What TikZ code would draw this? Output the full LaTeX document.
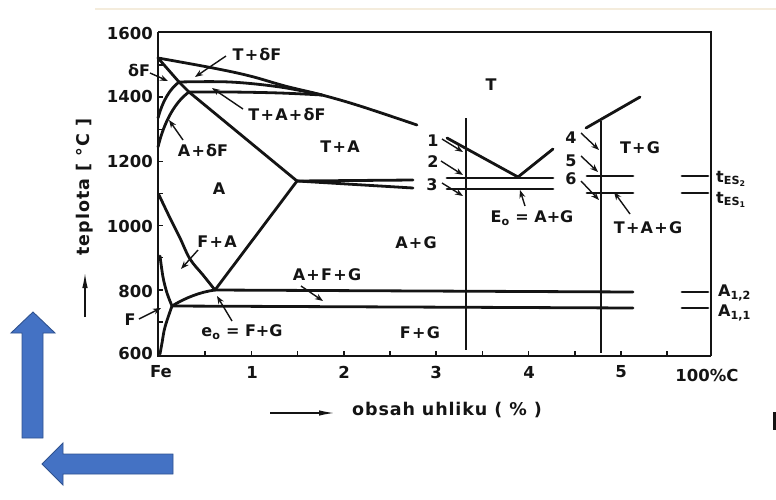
\documentclass[tikz,border=0pt]{standalone}
\usepackage{fontspec}
\setmainfont{DejaVu Sans}
\usetikzlibrary{arrows.meta}
\definecolor{ink}{HTML}{141414}
\definecolor{bluefill}{HTML}{4472C4}
\definecolor{blueedge}{HTML}{2F528F}
\definecolor{topline}{HTML}{F4ECDC}
\newcommand\pls{\kern0.08em+\kern0.08em}
\begin{document}
\begin{tikzpicture}[x=1pt,y=-1pt,
  lbl/.style={font=\fontsize{16}{16}\selectfont\bfseries, text=ink, inner sep=0pt},
  num/.style={font=\fontsize{16.5}{16.5}\selectfont\bfseries, text=ink, inner sep=0pt},
  ph/.style={draw=ink, line width=2.8pt, line cap=round, line join=round},
  thinv/.style={draw=ink, line width=1.5pt},
  frameline/.style={draw=ink, line width=1.8pt},
  axisline/.style={draw=ink, line width=2.5pt},
  tickline/.style={draw=ink, line width=1.5pt},
  leader/.style={draw=ink, line width=1.4pt, -{Stealth[length=8pt,width=6pt]}},
  axarrow/.style={draw=ink, line width=1.2pt, -{Latex[length=15pt,width=5.5pt]}},
  bigarrow/.style={fill=bluefill, draw=blueedge, line width=0.9pt, line join=miter}
]
\useasboundingbox (0,0) rectangle (776,499);
\draw[topline, line width=1.5pt] (95,9) -- (776,9);

% frame
\coordinate (TL) at (158,32); \coordinate (TR) at (711,32);
\coordinate (BR) at (711,356); \coordinate (BL) at (158,356);
\draw[frameline] (TL) -- (TR) -- (BR);
\draw[axisline] (TL) -- (BL) -- (BR);
\foreach \k in {1,...,9} \draw[tickline] (158,{354-32.1*\k}) -- ++(5,0);
\foreach \c in {0.5,1,...,5.5} \draw[tickline] ({159+92.4*\c},356) -- ++(0,-5);

% y tick labels
\node[num, anchor=east] (y1600) at (153,33) {1600};
\node[num, anchor=east] (y1400) at (153,96) {1400};
\node[num, anchor=east] (y1200) at (153,161) {1200};
\node[num, anchor=east] (y1000) at (153,226) {1000};
\node[num, anchor=east] (y800) at (153,291) {800};
\node[num, anchor=east] (y600) at (153,353) {600};
% x tick labels
\node[num] (xFe) at (161,372) {Fe};
\node[num] (x1) at (252,372) {1};
\node[num] (x2) at (344,372) {2};
\node[num] (x3) at (436,372) {3};
\node[num] (x4) at (529,372) {4};
\node[num] (x5) at (621,372) {5};
\node[num] (x100) at (707,375) {\textbf{100\%C}};

% axis titles
\node[text=ink, inner sep=0pt, rotate=90, font={\fontsize{17.5}{17.5}\selectfont\bfseries\addfontfeatures{LetterSpace=6}}] (ylab) at (85,187) {teplota [ °C ]};
\coordinate (ya0) at (85,317); \coordinate (ya1) at (85,273);
\draw[axarrow] (ya0) -- (ya1);
\node[text=ink, inner sep=0pt, font={\fontsize{17.5}{17.5}\selectfont\bfseries\addfontfeatures{LetterSpace=5}}] (xlab) at (447,410) {obsah uhliku ( \% )};
\coordinate (xa0) at (270,413); \coordinate (xa1) at (334,413);
\draw[axarrow] (xa0) -- (xa1);

% phase boundaries
\coordinate (dF) at (158,58);
\coordinate (P1) at (179,82);
\coordinate (P2) at (189,92);
\coordinate (Cv) at (322,95);
\coordinate (Eg) at (297,181);
\coordinate (Sd) at (215,290);
\coordinate (Fp) at (172,306);
\draw[ph] plot[smooth, tension=0.6] coordinates {(158,58) (213,68) (250,76) (285,86) (322,95) (360,106) (417,125)};
\draw[ph] plot[smooth, tension=0.6] coordinates {(179,82) (230,82) (280,87) (322,95)};
\draw[ph] plot[smooth, tension=0.6] coordinates {(189,92) (230,92) (280,93) (322,95)};
\draw[ph] (dF) -- (P1) -- (P2) -- (Eg);
\draw[ph] (158,118) .. controls (163,100) and (170,89) .. (P1);
\draw[ph] (158,147) .. controls (164,122) and (175,102) .. (P2);
% eutectic band
\draw[ph] (Eg) -- (413,180);
\draw[ph] (Eg) -- (413,188);
\draw[ph] (447,178) -- (553,178);
\draw[ph] (447,189) -- (553,189);
\draw[ph] (587,176) -- (633,176);
\draw[ph] (587,193) -- (633,193);
\draw[ph] (682,176) -- (708,176);
\draw[ph] (682,193) -- (708,193);
% graphite liquidus
\coordinate (Ep) at (518,177);
\draw[ph] (447,138) -- (Ep) -- (553,149);
\draw[ph] (586,128) -- (640,97);
% solvus, A3
\draw[ph] (Eg) -- (Sd);
\draw[ph] plot[smooth, tension=0.6] coordinates {(159,195) (170,218) (180,238) (190,259) (203,275) (215,290)};
\draw[ph] plot[smooth, tension=0.6] coordinates {(160,256) (163,277) (167,293) (172,306)};
\draw[ph] plot[smooth, tension=0.6] coordinates {(172,306) (165,327) (162,343) (160,354)};
\draw[ph] (Fp) .. controls (185,298) and (200,292) .. (Sd);
% eutectoid band
\draw[ph] (Sd) -- (633,292);
\draw[ph] (Fp) -- (633,308);
\draw[ph] (682,292) -- (708,292);
\draw[ph] (682,308) -- (708,308);
% composition verticals
\draw[thinv] (466,118) -- (466,350);
\draw[thinv] (601,121) -- (601,353);

% labels
\node[lbl] (LdF) at (139,70) {δF};
\node[lbl] (LTdF) at (257,54) {T\pls δF};
\node[lbl] (LTAdF) at (287,114) {T\pls A\pls δF};
\node[lbl] (LAdF) at (203,150) {A\pls δF};
\node[lbl] (LTA) at (340,147) {T\pls A};
\node[lbl] (LA) at (219,189) {A};
\node[lbl] (LT) at (491,85) {T};
\node[lbl] (L1) at (433,141) {1};
\node[lbl] (L2) at (433,162) {2};
\node[lbl] (L3) at (432,185) {3};
\node[lbl] (L4) at (571,138) {4};
\node[lbl] (L5) at (571,161) {5};
\node[lbl] (L6) at (571,179) {6};
\node[lbl] (LTG) at (640,148) {T\pls G};
\node[lbl] (LTAG) at (648,228) {T\pls A\pls G};
\node[lbl] (LE) at (532,218) {E\textsubscript{o} = A+G};
\node[lbl, anchor=west] (LtES2) at (716,179) {t\textsubscript{ES\textsubscript{2}}};
\node[lbl, anchor=west] (LtES1) at (716,200) {t\textsubscript{ES\textsubscript{1}}};
\node[lbl] (LAG) at (416,243) {A\pls G};
\node[lbl] (LFA) at (217,242) {F\pls A};
\node[lbl] (LAFG) at (327,275) {A\pls F\pls G};
\node[lbl] (Le) at (242,332) {e\textsubscript{o} = F+G};
\node[lbl] (LFG) at (420,333) {F\pls G};
\node[lbl] (LF) at (130,320) {F};
\node[lbl, anchor=west] (LA12) at (718,293) {A\textsubscript{1,2}};
\node[lbl, anchor=west] (LA11) at (718,313) {A\textsubscript{1,1}};

% leaders
\coordinate (a1s) at (150,73); \coordinate (a1e) at (168,81);
\coordinate (a2s) at (226,56); \coordinate (a2e) at (195,77);
\coordinate (a3s) at (243,109); \coordinate (a3e) at (212,88);
\coordinate (a4s) at (183,140); \coordinate (a4e) at (169,120);
\coordinate (a5s) at (198,250); \coordinate (a5e) at (181,269);
\coordinate (a6s) at (139,319); \coordinate (a6e) at (161,308);
\coordinate (a7s) at (232,321); \coordinate (a7e) at (217,296);
\coordinate (a8s) at (301,286); \coordinate (a8e) at (323,301);
\coordinate (b1s) at (442,139); \coordinate (b1e) at (463,152);
\coordinate (b2s) at (441,161); \coordinate (b2e) at (463,175);
\coordinate (b3s) at (442,183); \coordinate (b3e) at (463,196);
\coordinate (b4s) at (525,206); \coordinate (b4e) at (520,190);
\coordinate (c1s) at (581,133); \coordinate (c1e) at (599,150);
\coordinate (c2s) at (581,156); \coordinate (c2e) at (598,172);
\coordinate (c3s) at (581,181); \coordinate (c3e) at (599,200);
\coordinate (c4s) at (630,214); \coordinate (c4e) at (614,192);
\foreach \p in {a1,a2,a3,a4,a5,a6,a7,a8,b1,b2,b3,b4,c1,c2,c3,c4}
  \draw[leader] (\p s) -- (\p e);

% blue arrows
\draw[bigarrow] (22,438) -- (43,438) -- (43,333) -- (55,333) -- (33,312) -- (11,333) -- (22,333) -- cycle;
\draw[bigarrow] (173,454) -- (173,474) -- (63,474) -- (63,485) -- (42,464) -- (63,443) -- (63,454) -- cycle;
\fill[ink] (773,412) rectangle (776,430);
\end{tikzpicture}
\end{document}
